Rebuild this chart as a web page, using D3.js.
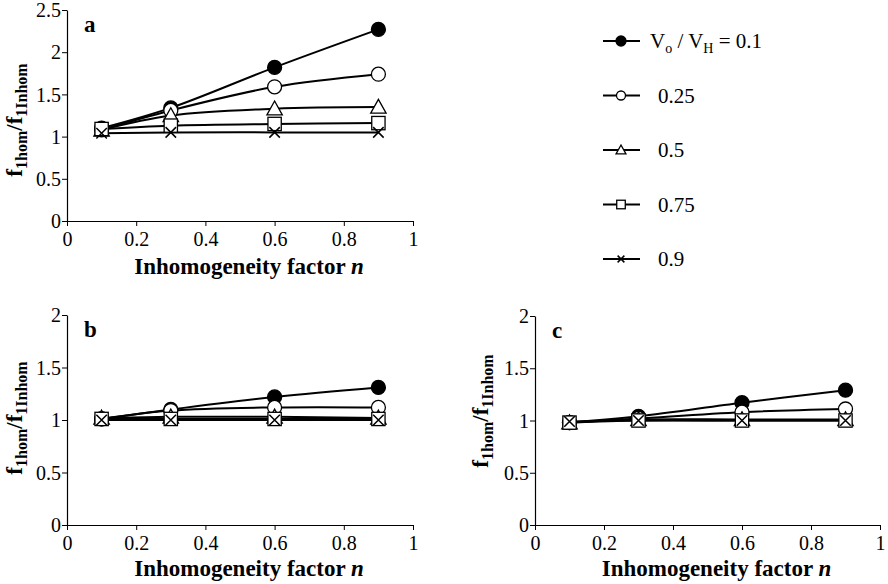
<!DOCTYPE html>
<html>
<head>
<meta charset="utf-8">
<script src="https://cdn.jsdelivr.net/npm/d3@7"></script>
</head>
<body style="margin:0;background:#fff">
<svg id="chart" width="888" height="584"></svg>
<script>
// x values (inhomogeneity factor n)
const nValues = [0.1, 0.3, 0.6, 0.9];
const seriesNames = ["0.1", "0.25", "0.5", "0.75", "0.9"];
const markerTypes = ["filled", "circle", "triangle", "square", "cross"];

// panel a
const panelA = [
  [1.10, 1.34, 1.82, 2.27],
  [1.08, 1.31, 1.59, 1.74],
  [1.08, 1.25, 1.33, 1.35],
  [1.09, 1.13, 1.15, 1.16],
  [1.04, 1.05, 1.05, 1.05]
];
// panel b
const panelB = [
  [1.01, 1.10, 1.22, 1.31],
  [1.01, 1.09, 1.12, 1.12],
  [1.02, 1.03, 1.03, 1.02],
  [1.01, 1.01, 1.01, 1.01],
  [1.00, 1.00, 1.00, 1.00]
];
// panel c
const panelC = [
  [0.98, 1.04, 1.17, 1.29],
  [0.98, 1.02, 1.08, 1.11],
  [0.98, 1.01, 1.01, 1.01],
  [0.98, 1.00, 1.00, 1.00],
  [0.99, 1.00, 1.00, 1.00]
];

const xTicks = [0, 0.2, 0.4, 0.6, 0.8, 1];
const yTicksA = [0, 0.5, 1, 1.5, 2, 2.5];
const yTicksBC = [0, 0.5, 1, 1.5, 2];

const FONT = "Liberation Serif";

const svg = d3.select("#chart").style("font-family", FONT);

function drawMarker(g, type, x, y, r) {
  if (type === "filled" || type === "circle") {
    g.append("circle").attr("cx", x).attr("cy", y).attr("r", r)
      .attr("fill", type === "filled" ? "#000" : "#fff")
      .attr("stroke", "#000").attr("stroke-width", 1.3);
  } else if (type === "triangle") {
    const s = r * 1.1;
    g.append("path")
      .attr("d", `M${x},${y - s} L${x + s},${y + s * 0.8} L${x - s},${y + s * 0.8} Z`)
      .attr("fill", "#fff").attr("stroke", "#000").attr("stroke-width", 1.3);
  } else if (type === "square") {
    const s = r * 0.95;
    g.append("rect").attr("x", x - s).attr("y", y - s)
      .attr("width", 2 * s).attr("height", 2 * s)
      .attr("fill", "#fff").attr("stroke", "#000").attr("stroke-width", 1.3);
  } else if (type === "cross") {
    const s = r * 0.75;
    g.append("path")
      .attr("d", `M${x - s},${y - s} L${x + s},${y + s} M${x - s},${y + s} L${x + s},${y - s}`)
      .attr("stroke", "#000").attr("stroke-width", 1.5).attr("fill", "none");
  }
}

function drawPanel(opt) {
  const { left, right, top, bottom, yMax, yTicks, data, label, xLabelY, yLabelX, yLabelCY } = opt;

  const x = d3.scaleLinear().domain([0, 1]).range([left, right]);
  const y = d3.scaleLinear().domain([0, yMax]).range([bottom, top]);

  const g = svg.append("g");

  // axes
  const xAxis = g.append("g")
    .attr("transform", `translate(0,${bottom})`)
    .call(d3.axisBottom(x).tickValues(xTicks).tickFormat(d3.format("")).tickSize(5).tickSizeOuter(0));
  const yAxis = g.append("g")
    .attr("transform", `translate(${left},0)`)
    .call(d3.axisLeft(y).tickValues(yTicks).tickFormat(d3.format("")).tickSize(5).tickSizeOuter(0));

  [xAxis, yAxis].forEach(a => {
    a.attr("font-family", FONT).attr("font-size", 20);
    a.select(".domain").attr("stroke", "#000").attr("stroke-width", 1.2);
    a.selectAll(".tick line").attr("stroke", "#000").attr("stroke-width", 1);
    a.selectAll(".tick text").attr("font-family", FONT)
      .attr("font-size", 20).attr("fill", "#000");
  });
  xAxis.selectAll(".tick text").attr("y", 9).attr("dy", "0.8em");
  yAxis.selectAll(".tick text").attr("x", -6).attr("dy", "0.33em");

  // lines
  const line = d3.line()
    .x((d, i) => x(nValues[i]))
    .y(d => y(d))
    .curve(d3.curveCatmullRom.alpha(0.5));

  data.forEach(vals => {
    g.append("path").datum(vals)
      .attr("fill", "none").attr("stroke", "#000").attr("stroke-width", 2)
      .attr("d", line);
  });
  data.forEach((vals, si) => {
    vals.forEach((v, i) => drawMarker(g, markerTypes[si], x(nValues[i]), y(v), 7));
  });

  // panel letter
  g.append("text").attr("x", left + 17).attr("y", top + 22)
    .attr("font-family", FONT)
    .attr("font-size", 23).attr("font-weight", "bold").text(label);

  // x label
  const xl = g.append("text")
    .attr("x", (left + right) / 2 + 9).attr("y", xLabelY)
    .attr("font-family", FONT)
    .attr("text-anchor", "middle").attr("font-size", 23).attr("font-weight", "bold");
  xl.append("tspan").text("Inhomogeneity factor ");
  xl.append("tspan").attr("font-style", "italic").text("n");

  // y label
  const yl = g.append("text")
    .attr("transform", `translate(${yLabelX},${yLabelCY}) rotate(-90)`)
    .attr("font-family", FONT)
    .attr("text-anchor", "middle").attr("font-size", 23).attr("font-weight", "bold");
  yl.append("tspan").text("f");
  yl.append("tspan").attr("font-size", 16).attr("dy", 5).text("1hom");
  yl.append("tspan").attr("dy", -5).text("/f");
  yl.append("tspan").attr("font-size", 16).attr("dy", 5).text("1Inhom");
}

drawPanel({ left: 67, right: 413, top: 10, bottom: 221, yMax: 2.5, yTicks: yTicksA,
  data: panelA, label: "a", xLabelY: 274, yLabelX: 22, yLabelCY: 120 });
drawPanel({ left: 67, right: 413, top: 315, bottom: 525, yMax: 2, yTicks: yTicksBC,
  data: panelB, label: "b", xLabelY: 576, yLabelX: 22, yLabelCY: 418 });
drawPanel({ left: 535, right: 880, top: 316, bottom: 525, yMax: 2, yTicks: yTicksBC,
  data: panelC, label: "c", xLabelY: 576, yLabelX: 488, yLabelCY: 411 });

// legend
const legend = svg.append("g");
const legendY = d3.scalePoint().domain(seriesNames).range([41, 259]);
seriesNames.forEach((name, i) => {
  const ly = legendY(name);
  legend.append("line").attr("x1", 603).attr("x2", 640).attr("y1", ly).attr("y2", ly)
    .attr("stroke", "#000").attr("stroke-width", 2);
  drawMarker(legend, markerTypes[i], 621, ly, i === 0 ? 5 : 4.5);
  const t = legend.append("text").attr("x", i === 0 ? 650 : 658).attr("y", ly + 7)
    .attr("font-family", FONT).attr("font-size", 21);
  if (i === 0) {
    t.append("tspan").text("V");
    t.append("tspan").attr("font-size", 14).attr("dy", 5).text("o");
    t.append("tspan").attr("dy", -5).text(" / V");
    t.append("tspan").attr("font-size", 14).attr("dy", 5).text("H");
    t.append("tspan").attr("dy", -5).text(" = " + name);
  } else {
    t.text(name);
  }
});
</script>
</body>
</html>
